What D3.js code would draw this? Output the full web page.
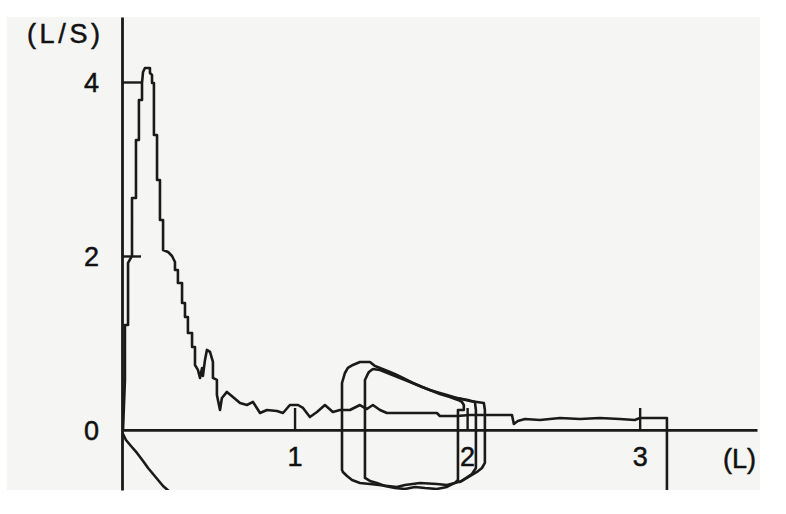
<!DOCTYPE html>
<html><head><meta charset="utf-8">
<script src="https://cdn.jsdelivr.net/npm/d3@7"></script>
<style>html,body{margin:0;padding:0;background:#fff;}svg{display:block;}</style>
</head><body>
<svg id="chart" width="786" height="514"></svg>
<script>
// ---- data (volume L, flow L/s) ----
const xTicks = [1, 2, 3];
const yTicks = [0, 2, 4];
const xUnit = "(L)";
const yUnit = "(L/S)";

const forcedExpiration = [
[0.006,0],[0.017,0.575],[0.017,1.207],[0.035,1.207],[0.035,1.920],[0.058,2.0],[0.058,2.667],
[0.081,2.667],[0.081,3.333],[0.098,3.333],[0.098,3.793],[0.116,3.793],[0.116,3.989],[0.122,4.115],
[0.133,4.161],[0.162,4.161],[0.162,4.103],[0.174,4.080],[0.174,3.989],[0.185,3.989],[0.185,3.391],
[0.203,3.391],[0.203,2.874],[0.220,2.874],[0.220,2.414],[0.238,2.414],[0.238,2.069],[0.267,2.046],
[0.290,2.000],[0.307,1.931],[0.307,1.839],[0.324,1.839],[0.324,1.690],[0.348,1.690],[0.348,1.460],
[0.365,1.460],[0.365,1.299],[0.382,1.299],[0.382,1.115],[0.406,1.115],[0.406,0.954],[0.423,0.954],
[0.423,0.747],[0.440,0.690],[0.452,0.598],[0.464,0.713],[0.469,0.621],[0.481,0.805],[0.492,0.920],
[0.510,0.897],[0.527,0.782],[0.527,0.598],[0.550,0.575],[0.550,0.402],[0.568,0.230],[0.579,0.368],
[0.608,0.437],[0.643,0.379],[0.684,0.310],[0.724,0.287],[0.759,0.322],[0.800,0.195],[0.840,0.230],
[0.898,0.218],[0.933,0.195],[0.973,0.287],[1.020,0.287],[1.049,0.253],[1.089,0.149],[1.130,0.207],
[1.176,0.287],[1.222,0.207],[1.263,0.230],[1.321,0.230],[1.379,0.287],[1.419,0.241],[1.454,0.287],
[1.495,0.230],[1.535,0.195],[1.825,0.195],[1.842,0.161],[1.941,0.161],[2.016,0.172],[2.260,0.172],
[2.271,0.069],[2.294,0.103],[2.335,0.126],[2.422,0.115],[2.538,0.138],[2.654,0.126],[2.769,0.138],
[2.885,0.126],[2.972,0.115],[3.001,0.138],[3.158,0.138],[3.158,-0.713]
];

const inspirationStart = [
[0.006,-0.046],[0.023,-0.115],[0.052,-0.184],[0.087,-0.264],[0.122,-0.356],[0.151,-0.437],
[0.180,-0.506],[0.209,-0.575],[0.238,-0.644],[0.278,-0.713]
];

const tidalLoop1 = [
[1.275,-0.460],[1.275,0.540],[1.292,0.655],[1.309,0.713],[1.338,0.747],[1.379,0.782],[1.437,0.782],
[1.466,0.736],[1.495,0.713],[1.553,0.667],[1.593,0.632],[1.640,0.586],[1.686,0.540],[1.738,0.494],
[1.784,0.460],[1.842,0.425],[1.883,0.402],[1.941,0.368],[2.016,0.333],[2.097,0.310],[2.103,0.230],
[2.103,-0.379],[2.086,-0.437],[2.057,-0.483],[2.028,-0.517],[1.999,-0.552],[1.970,-0.586],
[1.929,-0.609],[1.883,-0.632],[1.825,-0.621],[1.727,-0.609],[1.640,-0.632],[1.593,-0.655],
[1.541,-0.644],[1.437,-0.621],[1.379,-0.609],[1.333,-0.575],[1.304,-0.529],[1.280,-0.483],[1.275,-0.460]
];

const tidalLoop2 = [
[1.408,-0.552],[1.408,0.575],[1.419,0.621],[1.431,0.667],[1.454,0.701],[1.495,0.690],[1.553,0.644],
[1.611,0.598],[1.669,0.552],[1.727,0.506],[1.784,0.460],[1.842,0.414],[1.900,0.379],[1.947,0.345],
[1.970,0.322],[1.981,0.287],[1.981,0.230],[1.947,0.230],[1.947,-0.575],[1.929,-0.609],[1.883,-0.655],
[1.825,-0.678],[1.756,-0.667],[1.698,-0.655],[1.640,-0.678],[1.582,-0.667],[1.524,-0.644],
[1.477,-0.609],[1.437,-0.586],[1.408,-0.552]
];

const tidalLoop3 = [
[1.941,0.368],[2.005,0.345],[2.045,0.322],[2.051,0.230],[2.051,-0.437],[2.028,-0.506],
[1.993,-0.552],[1.958,-0.598]
];

// ---- drawing ----
const svg = d3.select("#chart");
const x = d3.scaleLinear().domain([0, 3.68]).range([122, 757]);
const y = d3.scaleLinear().domain([-0.69, 4.747]).range([490, 17]);

svg.append("rect").attr("x", 7).attr("y", 17).attr("width", 753).attr("height", 473).attr("fill", "#f5f5f3");

svg.append("clipPath").attr("id", "clip").append("rect")
  .attr("x", 7).attr("y", 17).attr("width", 753).attr("height", 473);

const font = "'Liberation Sans', Arial, sans-serif";
const ink = "#1a1a1a";

function styleText(sel) {
  sel.attr("fill", "#111").attr("stroke", "#111").attr("stroke-width", 0.5)
    .style("font-family", font).style("font-size", "27px");
}

// axes
const gx = svg.append("g").attr("transform", `translate(0,${y(0)})`)
  .call(d3.axisBottom(x).tickValues(xTicks).tickSize(-22).tickSizeOuter(0).tickPadding(17).tickFormat(d3.format("d")));
const gy = svg.append("g").attr("transform", `translate(${x(0)},0)`)
  .call(d3.axisLeft(y).tickValues(yTicks).tickSize(-19).tickSizeOuter(0).tickPadding(23).tickFormat(d3.format("d")));
[gx, gy].forEach(g => {
  g.select(".domain").attr("stroke", ink).attr("stroke-width", 2.8);
  g.selectAll(".tick line").attr("stroke", ink).attr("stroke-width", 2.4);
  styleText(g.selectAll(".tick text"));
});
gy.selectAll(".tick").filter(d => d === 0).select("line").remove();
gy.selectAll(".tick text").attr("dy", "0.36em");

// unit labels
styleText(svg.append("text").attr("x", 27).attr("y", 43).attr("textLength", 73).attr("lengthAdjust", "spacing").text(yUnit));
styleText(svg.append("text").attr("x", 723).attr("y", 468).text(xUnit));

// traces
const line = d3.line().x(d => x(d[0])).y(d => y(d[1]));
const traces = svg.append("g").attr("clip-path", "url(#clip)");
[forcedExpiration, inspirationStart, tidalLoop1, tidalLoop2, tidalLoop3].forEach(data => {
  traces.append("path").datum(data).attr("d", line)
    .attr("fill", "none").attr("stroke", ink).attr("stroke-width", 2.6)
    .attr("stroke-linejoin", "round").attr("stroke-linecap", "round");
});
</script>
</body></html>
